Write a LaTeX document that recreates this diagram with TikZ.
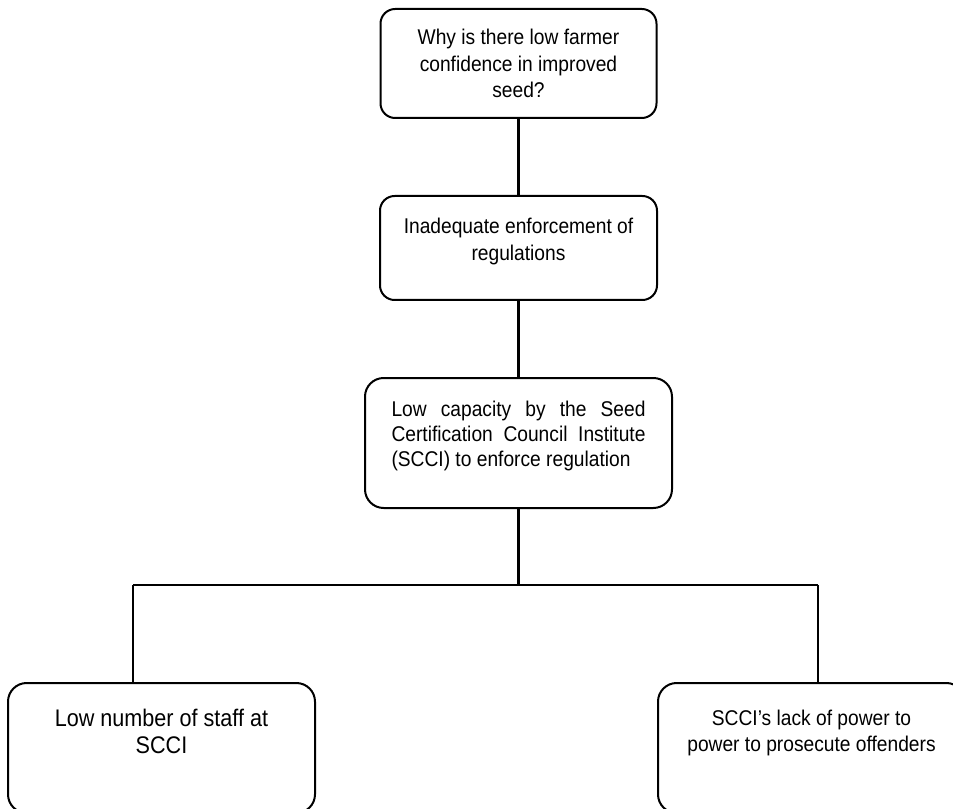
\documentclass[tikz,border=0pt]{standalone}
\usepackage{fontspec}
\setmainfont{Liberation Sans}[FakeStretch=0.9]
\usepackage{tikz}
\usetikzlibrary{positioning,calc}

\begin{document}
\begin{tikzpicture}[x=0.75pt, y=-0.75pt,
        bx/.style={draw=black, line width=1.5pt, rounded corners=11pt,
                  anchor=north, align=center,
                  font=\fontsize{16pt}{20pt}\selectfont},
        wide/.style={bx, minimum width=230.25pt, minimum height=97.5pt,
                  rounded corners=14pt},
        ln/.style={line width=1.9pt, black}
      ]
        \useasboundingbox (0,0) rectangle (953,809);
        \node[bx, minimum width=207pt, minimum height=81.75pt,
              text depth=0pt] (q) at (518.5,8)
              {Why is there low farmer\\
               confidence in improved\\
               seed?};
        \node[bx, minimum width=207.75pt, minimum height=78pt,
              text depth=12.75pt] (enf) at (518.5,195)
              {Inadequate enforcement of\\
               regulations};
        \node[wide, align=justify, text width=190.5pt,
              font=\fontsize{16pt}{18.75pt}\selectfont,
              text depth=52pt] (cap) at (518.5,377)
              {Low capacity by the Seed\linebreak
               Certification Council Institute\linebreak
               (SCCI) to enforce regulation};
        \node[wide, font=\fontsize{18pt}{20pt}\selectfont,
              text depth=25pt] (staff) at (161.5,682)
              {Low number of staff at\\
               SCCI};
        \node[wide, text depth=26pt] (power) at (811.5,682)
              {SCCI's lack of power to\\
               power to prosecute offenders};
        % tree connectors
        \coordinate (fork) at (518.5,585);
        \coordinate (lft) at (133,585);
        \coordinate (rgt) at (818,585);
        \draw[ln] (q.south) -- (enf.north);
        \draw[ln] (enf.south) -- (cap.north);
        \draw[ln] (cap.south) -- (fork);
        \draw[ln] (lft) -- (rgt);
        \draw[ln] (lft) -- (lft |- staff.north);
        \draw[ln] (rgt) -- (rgt |- power.north);
      \end{tikzpicture}
\end{document}
